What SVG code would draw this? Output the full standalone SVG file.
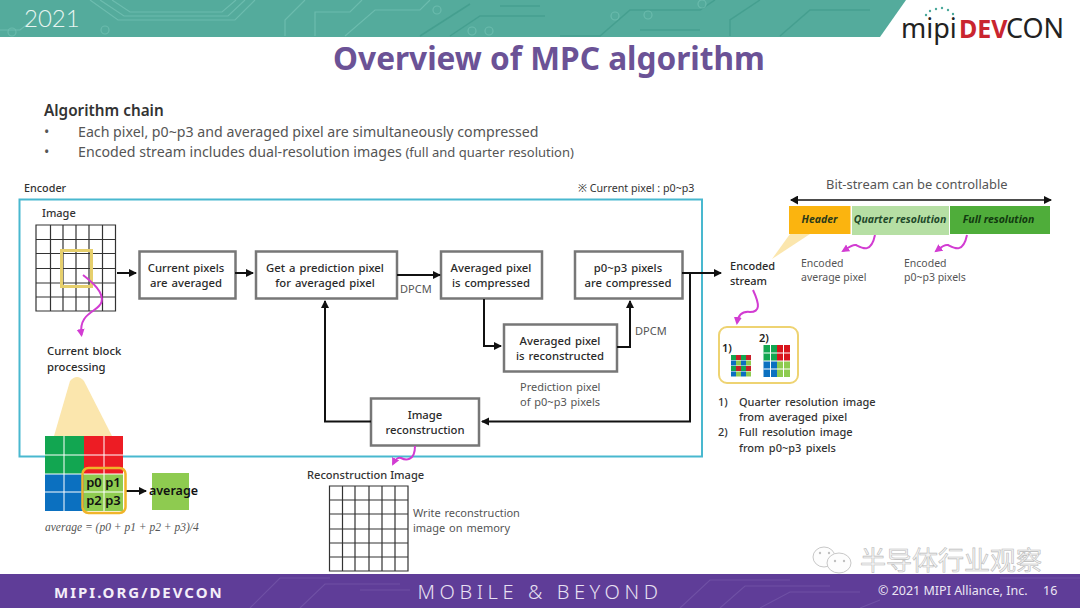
<svg xmlns="http://www.w3.org/2000/svg" width="1080" height="608" viewBox="0 0 1080 608">
<defs>
<marker id="ah" markerUnits="userSpaceOnUse" markerWidth="9" markerHeight="9" refX="7" refY="4" orient="auto"><path d="M0 0L8 4L0 8z" fill="#111"/></marker>
<marker id="pm" markerUnits="userSpaceOnUse" markerWidth="9" markerHeight="9" refX="6" refY="4" orient="auto"><path d="M0 0L8 4L0 8z" fill="#d23cd2"/></marker>
<marker id="ahs" markerUnits="userSpaceOnUse" markerWidth="9" markerHeight="10" refX="1" refY="4.500" orient="auto"><path d="M8 0L0 4.500L8 9z" fill="#111"/></marker>
</defs>
<style>
text{font-family:"Noto Sans","Open Sans",sans-serif;fill:#333}
.b{fill:#fff;stroke:#777;stroke-width:2.500}
.t{font-size:11.300px;font-weight:500;text-anchor:middle;fill:#2a2a2a;word-spacing:1px}
.l{font-size:11px;fill:#555;word-spacing:1px}
.c{fill:none;stroke:#111;stroke-width:2}
.p{fill:none;stroke:#d23cd2;stroke-width:2}
.gw{fill:none;stroke:#fff;stroke-width:1}
.grid{fill:none;stroke:#333;stroke-width:1.200}
.tr{fill:none;stroke:#74c2b4;stroke-width:1.200;opacity:.75}
.td{fill:none;stroke:#3f9a8a;stroke-width:1.500;opacity:.7}
.tf{fill:none;stroke:#7355a8;stroke-width:1.200;opacity:.8}
</style>
<rect width="1080" height="608" fill="#fff"/>
<g id="header"><path d="M0 0H906L880 37H0z" fill="#54ab9c"/>
<path class="tr" d="M90 0L118 20H235L255 0M100 0L124 16H228L245 0M112 0L130 12H222L236 0M0 30H20L30 22M285 36V20L305 0M315 36V12H350L362 0M345 36L375 10H420L430 0"/>
<path class="td" d="M420 36L470 4M450 36L480 16H545M560 36H600L630 10H700L715 0M730 36V20L760 0M780 36L810 10H870M640 30H700M500 6H540"/>
<g fill="none" stroke="#74c2b4" stroke-width="1.200" opacity=".7"><circle cx="437" cy="10" r="4"/><circle cx="472" cy="31" r="4"/><circle cx="489" cy="31" r="4"/><circle cx="615" cy="16" r="4"/><circle cx="648" cy="15" r="4"/><circle cx="702" cy="4" r="4"/><circle cx="12" cy="32" r="4"/><circle cx="105" cy="30" r="4"/></g>
<text x="24" y="27" font-size="24" font-weight="300" style="font-family:Lato,sans-serif;fill:#e8f5f1">2021</text>
<g id="logo"><text x="901" y="38" font-size="27" style="fill:#222">mipi</text>
<text x="959" y="38" font-size="25" font-weight="700" style="fill:#c9252f">DEV</text>
<text x="1006" y="38" font-size="27" style="fill:#222">CON</text>
<g fill="#4aa89a"><circle cx="926" cy="15" r="1.200"/><circle cx="930" cy="11" r="1.200"/><circle cx="936" cy="9" r="1.200"/><circle cx="942" cy="8" r="1.200"/><circle cx="948" cy="10" r="1.200"/><circle cx="953" cy="14" r="1.200"/></g></g></g>
<text id="title" x="549" y="70" font-size="31.600" font-weight="700" text-anchor="middle" style="fill:#6b5296">Overview of MPC algorithm</text>
<g id="intro">
<text x="44" y="116" font-size="15.300" font-weight="600">Algorithm chain</text>
<g font-size="14.200" style="fill:#555"><text x="44" y="137" style="fill:#555">•</text><text x="78" y="137" style="fill:#555">Each pixel, p0~p3 and averaged pixel are simultaneously compressed</text>
<text x="44" y="157" style="fill:#555">•</text><text x="78" y="157" style="fill:#555">Encoded stream includes dual-resolution images <tspan font-size="13">(full and quarter resolution)</tspan></text></g>
</g>
<g id="encoder"><rect x="19.500" y="199.500" width="682.500" height="257" fill="none" stroke="#49b8cf" stroke-width="2"/>
<text x="24" y="192" font-size="10.800" font-weight="500">Encoder</text>
<text x="578" y="192" font-size="10.700">※ Current pixel : p0~p3</text></g>
<g id="image"><text x="42" y="217" font-size="11" font-weight="500">Image</text>
<path class="grid" d="M36 225H115.500V311H36zM50.500 225V311M63 225V311M76 225V311M89 225V311M102.500 225V311M36 239.500H115.500M36 253.500H115.500M36 268.500H115.500M36 283H115.500M36 297H115.500"/>
<rect x="61.500" y="250.500" width="30" height="36" fill="none" stroke="#e6cf6c" stroke-width="3"/></g>
<g id="n1"><rect class="b" x="139.500" y="251.500" width="96" height="47"/><text class="t" x="186" y="272">Current pixels</text><text class="t" x="186" y="287">are averaged</text></g>
<g id="n2"><rect class="b" x="256" y="251.500" width="141" height="47"/><text class="t" x="325" y="272">Get a prediction pixel</text><text class="t" x="325" y="287">for averaged pixel</text></g>
<g id="n3"><rect class="b" x="441" y="251.500" width="101" height="47"/><text class="t" x="491" y="272">Averaged pixel</text><text class="t" x="491" y="287">is compressed</text></g>
<g id="n4"><rect class="b" x="575" y="251.500" width="107.500" height="47"/><text class="t" x="628" y="272">p0~p3 pixels</text><text class="t" x="628" y="287">are compressed</text></g>
<g id="n5"><rect class="b" x="504" y="324.500" width="113" height="47"/><text class="t" x="560" y="345">Averaged pixel</text><text class="t" x="560" y="360">is reconstructed</text></g>
<g id="n6"><rect class="b" x="371" y="398.500" width="108" height="47"/><text class="t" x="425" y="419">Image</text><text class="t" x="425" y="434">reconstruction</text></g>
<g id="labels">
<text class="l" x="400" y="293">DPCM</text><text class="l" x="635" y="335">DPCM</text>
<text class="l" x="520" y="391">Prediction pixel</text><text class="l" x="520" y="406">of p0~p3 pixels</text>
<text x="47" y="355" class="t" style="text-anchor:start">Current block</text><text x="47" y="371" class="t" style="text-anchor:start">processing</text>
</g>
<g id="connectors">
<path class="c" marker-end="url(#ah)" d="M117 273H136"/>
<path class="c" marker-end="url(#ah)" d="M235 273H253"/>
<path class="c" marker-end="url(#ah)" d="M397 275H440"/>
<path class="c" marker-end="url(#ah)" d="M484 299V346H501"/>
<path class="c" marker-end="url(#ah)" d="M617 347H630V301"/>
<path class="c" marker-end="url(#ah)" d="M682 273H721"/>
<path class="c" marker-end="url(#ah)" d="M690 273V421.500H482"/>
<path class="c" marker-end="url(#ah)" d="M371 421.500H325V301"/>
<path class="c" marker-end="url(#ah)" d="M126 491H146"/>
<path class="c" style="stroke-width:1.500" marker-start="url(#ahs)" marker-end="url(#ah)" d="M791 200H1051"/>
<path class="p" marker-end="url(#pm)" d="M83 275C92 282 104 292 101.500 302C99 312 78 312 81.500 335"/>
<path class="p" marker-end="url(#pm)" d="M415 446C415 462 405 460 401 458C398 457 395 460 393 464"/>
<path class="p" marker-end="url(#pm)" d="M753 290C760 305 760 312 750 312C742 311 738 316 737 323"/>
<path class="p" marker-end="url(#pm)" d="M875 235C871 254 862 248 856 245C852 244 848 248 843 251"/>
<path class="p" marker-end="url(#pm)" d="M967 235C963 254 954 248 948 245C944 244 940 248 936 251"/>
</g>
<path id="zoom-wedge" d="M70 381Q77 373 84 381L112 436H54z" fill="#fbe6ad"/>
<g id="block">
<rect x="45" y="436" width="39" height="38" fill="#12a651"/><rect x="84" y="436" width="39" height="38" fill="#ed1c24"/>
<rect x="45" y="474" width="39" height="37" fill="#0b70c0"/><rect x="84" y="474" width="39" height="37" fill="#8ecb50"/>
<path class="gw" d="M64 436V511M104 436V511M45 455H123M45 474H123M45 492H123"/>
<rect x="82.500" y="468" width="43" height="45" rx="6" fill="none" stroke="#f0b429" stroke-width="2.500"/>
<g font-size="13" font-weight="600" text-anchor="middle"><text x="94" y="487" style="fill:#111">p0</text><text x="113" y="487" style="fill:#111">p1</text><text x="94" y="505" style="fill:#111">p2</text><text x="113" y="505" style="fill:#111">p3</text></g>
<rect x="152" y="473" width="37" height="37" fill="#8ecb50"/><text x="173.500" y="495" font-size="12.500" font-weight="600" text-anchor="middle" style="fill:#111">average</text>
<text x="45" y="531" font-size="11.500" font-style="italic" style="font-family:'Liberation Serif',serif;fill:#555">average = (p0 + p1 + p2 + p3)/4</text></g>
<g id="recon"><text x="307" y="479" font-size="11.100" font-weight="500">Reconstruction Image</text>
<path class="grid" d="M329.500 486H408V571H329.500zM342.500 486V571M355 486V571M369 486V571M382 486V571M395 486V571M329.500 500H408M329.500 514H408M329.500 529H408M329.500 543H408M329.500 557H408"/>
<text class="l" x="413" y="517">Write reconstruction</text><text class="l" x="413" y="532">image on memory</text></g>
<g id="stream"><text class="t" x="730" y="270" style="text-anchor:start;font-size:11px">Encoded</text><text class="t" x="730" y="285" style="text-anchor:start;font-size:11px">stream</text>
<path d="M790 234H810L772 259z" fill="#fbe6ad"/>
<rect x="789" y="206" width="61.500" height="28" fill="#fbb40f"/><rect x="852" y="206" width="97" height="29" fill="#b6dfa4"/><rect x="950" y="206" width="100" height="28" fill="#4fad3a"/>
<g font-size="10.500" font-weight="700" font-style="italic" text-anchor="middle"><text x="819.500" y="223" style="fill:#2a3a1a">Header</text><text x="900" y="223" style="fill:#1f4a2a">Quarter resolution</text><text x="998.500" y="223" style="fill:#123a10">Full resolution</text></g>
<text x="826" y="189" font-size="12.900" style="fill:#555">Bit-stream can be controllable</text>
<text class="l" x="801" y="267" style="font-size:10.500px;word-spacing:0">Encoded</text><text class="l" x="801" y="281" style="font-size:10.500px;word-spacing:0">average pixel</text>
<text class="l" x="904" y="267" style="font-size:10.500px;word-spacing:0">Encoded</text><text class="l" x="904" y="281" style="font-size:10.500px;word-spacing:0">p0~p3 pixels</text>
<rect x="719" y="327" width="79" height="56" rx="8" fill="#fff" stroke="#eed372" stroke-width="2"/>
<text x="722" y="352" font-size="11" font-weight="600" style="fill:#222">1)</text><text x="759" y="342" font-size="11" font-weight="600" style="fill:#222">2)</text>
<rect x="763.500" y="345" width="13.500" height="16" fill="#12a651"/><rect x="777" y="345" width="13" height="16" fill="#d8141c"/><rect x="763.500" y="361" width="13.500" height="16" fill="#0b70c0"/><rect x="777" y="361" width="13" height="16" fill="#8ecb50"/>
<path class="gw" d="M770.500 345V377M783.500 345V377M763.500 353H790M763.500 361H790M763.500 369H790"/>
<g id="quarter"><path d="M731 355h5v5h-5zM741 355h5v5h-5zM731 366h5v5h-5zM741 366h5v5h-5z" fill="#12a651"/><path d="M736 355h5v5h-5zM746 355h5v5h-5zM736 366h5v5h-5zM746 366h5v5h-5z" fill="#c8202a"/><path d="M731 360.500h5v5h-5zM741 360.500h5v5h-5zM731 371.500h5v5h-5zM741 371.500h5v5h-5z" fill="#0b70c0"/><path d="M736 360.500h5v5h-5zM746 360.500h5v5h-5zM736 371.500h5v5h-5zM746 371.500h5v5h-5z" fill="#8ecb50"/></g>
<g font-size="11" font-weight="500" word-spacing="1.500"><text x="718" y="406">1)</text><text x="739" y="406">Quarter resolution image</text><text x="739" y="421">from averaged pixel</text><text x="718" y="436">2)</text><text x="739" y="436">Full resolution image</text><text x="739" y="452">from p0~p3 pixels</text></g></g>
<g id="footer"><rect y="574" width="1080" height="34" fill="#5f3d98"/>
<path class="tf" d="M250 608L280 578H330M300 608L325 584H400M360 590H410M680 608L710 580H790M720 608L745 586H830M760 608L790 592H860M1000 578H1080M860 608L880 600"/>
<text x="54" y="598" font-size="15" font-weight="700" style="fill:#f4eef9;letter-spacing:2px">MIPI.ORG/DEVCON</text>
<text x="540" y="599" font-size="20" font-weight="300" text-anchor="middle" style="fill:#e8e0f2;letter-spacing:4.600px">MOBILE &amp; BEYOND</text>
<text x="878" y="595" font-size="12.500" style="fill:#ece6f4">© 2021 MIPI Alliance, Inc.</text><text x="1043" y="595" font-size="12.500" style="fill:#ece6f4">16</text></g>
<g id="watermark"><g fill="#fdfdfd" stroke="#c8c8c8" stroke-width="1"><ellipse cx="824" cy="557" rx="11" ry="10"/><ellipse cx="839" cy="563" rx="12" ry="10"/></g><g fill="#c0c0c0"><circle cx="820" cy="553" r="1.200"/><circle cx="829" cy="553" r="1.200"/><circle cx="835" cy="561" r="1.200"/><circle cx="844" cy="561" r="1.200"/></g>
<text x="860" y="570" font-size="26" stroke="#bbb" stroke-width=".6" style="font-family:'Noto Sans CJK SC',sans-serif;fill:#f4f4f4">半导体行业观察</text></g>
</svg>
